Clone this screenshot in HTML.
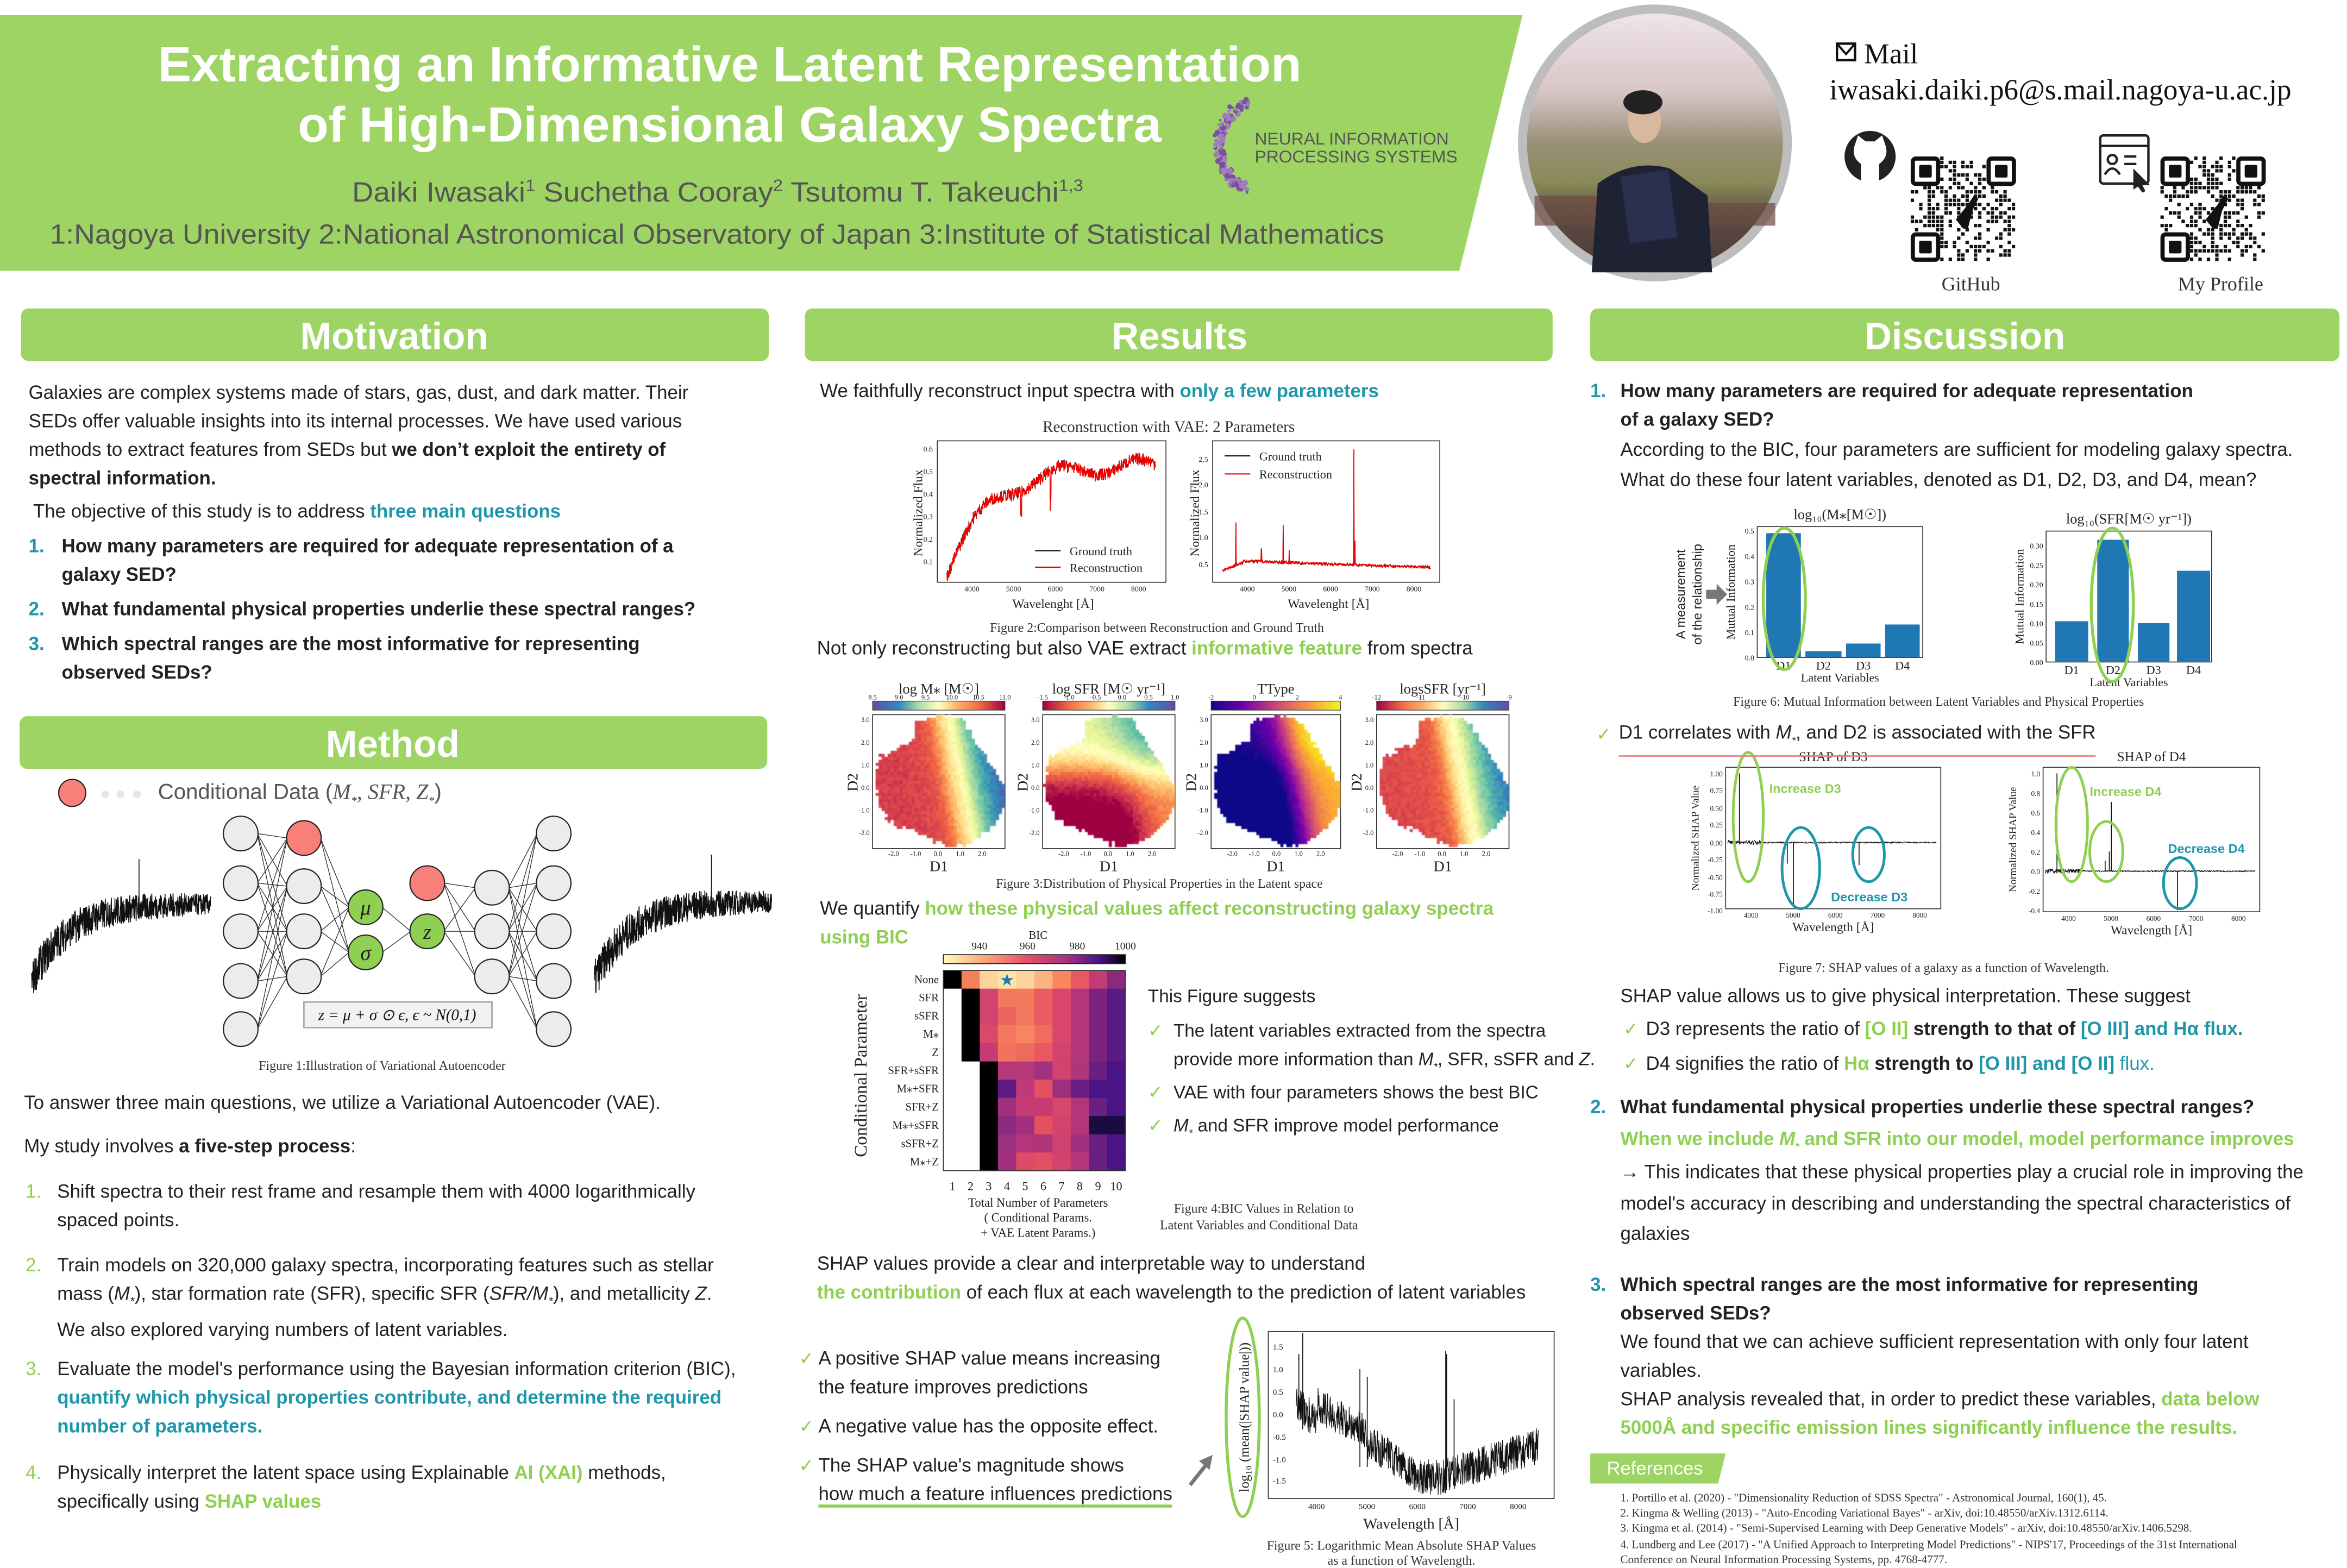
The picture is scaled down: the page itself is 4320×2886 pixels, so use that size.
<!DOCTYPE html>
<html><head><meta charset="utf-8">
<style>
html,body{margin:0;padding:0;background:#fff;}
body{width:4320px;height:2880px;overflow:hidden;}
#p{position:absolute;left:0;top:0;width:1560px;height:1040px;transform:scale(2.76923);transform-origin:0 0;font-family:"Liberation Sans",sans-serif;color:#222;}
.t{position:absolute;white-space:nowrap;font-size:12.6px;line-height:19px;}
.b{font-weight:bold;}
.g{color:#8fcf52;font-weight:bold;}
.c{color:#1f97ab;font-weight:bold;}
.n{position:absolute;font-size:12.6px;font-weight:bold;line-height:19px;}
.cap{position:absolute;white-space:nowrap;font-family:"Liberation Serif",serif;font-size:8.6px;color:#333;}
.ck{position:absolute;color:#8fcf52;font-size:12px;line-height:19px;}
svg text{font-family:"Liberation Serif",serif;}
canvas{position:absolute;}
</style></head><body><div id="p">
<svg id="s" width="1560" height="1040" style="position:absolute;left:0;top:0" xmlns="http://www.w3.org/2000/svg">
<defs>
<linearGradient id="gs" x1="0" x2="1"><stop offset="0" stop-color="#5e4fa2"/><stop offset=".2" stop-color="#3288bd"/><stop offset=".35" stop-color="#abdda4"/><stop offset=".5" stop-color="#ffffbf"/><stop offset=".65" stop-color="#fdae61"/><stop offset=".8" stop-color="#f46d43"/><stop offset="1" stop-color="#9e0142"/></linearGradient>
<linearGradient id="gr" x1="0" x2="1"><stop offset="0" stop-color="#9e0142"/><stop offset=".2" stop-color="#f46d43"/><stop offset=".35" stop-color="#fdae61"/><stop offset=".5" stop-color="#ffffbf"/><stop offset=".65" stop-color="#abdda4"/><stop offset=".8" stop-color="#3288bd"/><stop offset="1" stop-color="#5e4fa2"/></linearGradient>
<linearGradient id="gp" x1="0" x2="1"><stop offset="0" stop-color="#0d0887"/><stop offset=".25" stop-color="#7201a8"/><stop offset=".5" stop-color="#cc4778"/><stop offset=".75" stop-color="#f89540"/><stop offset="1" stop-color="#f0f921"/></linearGradient>
<linearGradient id="gm" x1="0" x2="1"><stop offset="0" stop-color="#fcfdbf"/><stop offset=".2" stop-color="#fcb07a"/><stop offset=".45" stop-color="#e8536a"/><stop offset=".7" stop-color="#9c2e7f"/><stop offset=".85" stop-color="#4a1486"/><stop offset="1" stop-color="#000004"/></linearGradient>
<linearGradient id="ph" x1="0" y1="0" x2="0" y2="1"><stop offset="0" stop-color="#efe4e8"/><stop offset=".3" stop-color="#d9c6c8"/><stop offset=".5" stop-color="#9a9078"/><stop offset=".65" stop-color="#8a8a5a"/><stop offset=".8" stop-color="#5a4a44"/><stop offset="1" stop-color="#4d3a36"/></linearGradient>
</defs>
<!-- header -->
<polygon points="0,10 1012,10 970,180 0,180" fill="#9ed464"/>
<text x="105" y="54" textLength="760" lengthAdjust="spacingAndGlyphs" font-size="33" font-weight="bold" fill="#fff" style="font-family:'Liberation Sans',sans-serif">Extracting an Informative Latent Representation</text>
<text x="198" y="94" textLength="574" lengthAdjust="spacingAndGlyphs" font-size="33" font-weight="bold" fill="#fff" style="font-family:'Liberation Sans',sans-serif">of High-Dimensional Galaxy Spectra</text>
<text x="234" y="134" textLength="486" lengthAdjust="spacingAndGlyphs" font-size="18.5" fill="#555" style="font-family:'Liberation Sans',sans-serif">Daiki Iwasaki<tspan font-size="11" dy="-7">1</tspan><tspan dy="7"> Suchetha Cooray</tspan><tspan font-size="11" dy="-7">2</tspan><tspan dy="7"> Tsutomu T. Takeuchi</tspan><tspan font-size="11" dy="-7">1,3</tspan></text>
<text x="33" y="162" textLength="887" lengthAdjust="spacingAndGlyphs" font-size="18.5" fill="#555" style="font-family:'Liberation Sans',sans-serif">1:Nagoya University 2:National Astronomical Observatory of Japan 3:Institute of Statistical Mathematics</text>
<g id="nips"></g>
<text x="834" y="96" font-size="11.5" fill="#555" style="font-family:'Liberation Sans',sans-serif">NEURAL INFORMATION</text>
<text x="834" y="108" font-size="11.5" fill="#555" style="font-family:'Liberation Sans',sans-serif">PROCESSING SYSTEMS</text>
<!-- photo -->
<ellipse cx="1100" cy="95" rx="91" ry="92" fill="#bdbdbd"/>
<ellipse cx="1100" cy="95" rx="85" ry="86" fill="url(#ph)"/>
<path d="M1020,130 L1080,130 L1080,150 L1020,150Z" fill="#6b4a40" opacity=".7"/>
<path d="M1120,135 L1180,135 L1180,150 L1120,150Z" fill="#6b4a40" opacity=".7"/>
<path d="M1058,181 L1062,122 Q1085,105 1110,112 L1135,130 L1138,181 Z" fill="#1e2233"/>
<ellipse cx="1093" cy="80" rx="11" ry="15" fill="#d9b8a0"/>
<ellipse cx="1092" cy="68" rx="13" ry="8" fill="#222"/>
<rect x="1080" y="115" width="32" height="45" fill="#2a3050" transform="rotate(-8 1096 137)"/>
<!-- contact -->
<rect x="1221" y="29" width="12" height="11" fill="none" stroke="#111" stroke-width="1.6"/><path d="M1221,29 L1227,36 L1233,29" fill="none" stroke="#111" stroke-width="1.4"/>
<text x="1239" y="42" font-size="19" fill="#111">Mail</text>
<text x="1216" y="66" font-size="19.5" fill="#111" textLength="307" lengthAdjust="spacingAndGlyphs">iwasaki.daiki.p6@s.mail.nagoya-u.ac.jp</text>
<circle cx="1243" cy="104" r="17" fill="#222"/>
<path d="M1233,96 L1235,90 L1240,94 L1246,94 L1251,90 L1253,96 Q1256,104 1249,109 L1249,122 L1237,122 L1237,109 Q1230,104 1233,96Z" fill="#fff"/>
<g fill="none" stroke="#222" stroke-width="1.6"><rect x="1396" y="90" width="32" height="32" rx="2"/><line x1="1396" y1="97" x2="1428" y2="97"/><circle cx="1404" cy="106" r="3"/><path d="M1399,116 Q1404,108 1409,116"/><line x1="1412" y1="104" x2="1420" y2="104"/><line x1="1412" y1="109" x2="1420" y2="109"/></g>
<path d="M1418,112 L1429,123 L1424,123 L1426,127 L1424,128 L1421,124 L1418,126Z" fill="#222"/>
<g id="qr"></g>
<text x="1310" y="193" font-size="13" fill="#333" text-anchor="middle">GitHub</text>
<text x="1476" y="193" font-size="13" fill="#333" text-anchor="middle">My Profile</text>
<!-- section headers -->
<rect x="14" y="205" width="497" height="35" rx="5" fill="#9ed464"/>
<rect x="535" y="205" width="497" height="35" rx="5" fill="#9ed464"/>
<rect x="1057" y="205" width="498" height="35" rx="5" fill="#9ed464"/>
<rect x="13" y="476" width="497" height="35" rx="5" fill="#9ed464"/>
<g font-size="25" font-weight="bold" fill="#fff" text-anchor="middle" style="font-family:'Liberation Sans',sans-serif">
<text x="262" y="232" style="font-family:'Liberation Sans',sans-serif">Motivation</text>
<text x="784" y="232" style="font-family:'Liberation Sans',sans-serif">Results</text>
<text x="1306" y="232" style="font-family:'Liberation Sans',sans-serif">Discussion</text>
<text x="261" y="503" style="font-family:'Liberation Sans',sans-serif">Method</text>
</g>
<!-- method diagram -->
<ellipse cx="48" cy="527" rx="9" ry="9" fill="#f87f7a" stroke="#222" stroke-width=".8"/>
<circle cx="70" cy="528" r="2.6" fill="#e6e6e6"/><circle cx="80" cy="528" r="2.6" fill="#e6e6e6"/><circle cx="91" cy="528" r="2.6" fill="#e6e6e6"/>
<g id="net"></g>
<rect x="202" y="666" width="125" height="17" fill="#f2f2f2" stroke="#aaa"/>
<text x="264" y="678" font-size="10.5" font-style="italic" text-anchor="middle" fill="#111">z = μ + σ ⊙ ϵ, ϵ ~ N(0,1)</text>
<g id="g1"></g>
</svg>

<!-- Motivation text -->
<div class="t" style="left:19px;top:252px">Galaxies are complex systems made of stars, gas, dust, and dark matter. Their<br>SEDs offer valuable insights into its internal processes. We have used various<br>methods to extract features from SEDs but <b>we don’t exploit the entirety of</b><br><b>spectral information.</b></div>
<div class="t" style="left:22px;top:331px">The objective of this study is to address <span class="c">three main questions</span></div>
<div class="n c" style="left:19px;top:354px">1.</div><div class="t b" style="left:41px;top:354px">How many parameters are required for adequate representation of a<br>galaxy SED?</div>
<div class="n c" style="left:19px;top:396px">2.</div><div class="t b" style="left:41px;top:396px">What fundamental physical properties underlie these spectral ranges?</div>
<div class="n c" style="left:19px;top:419px">3.</div><div class="t b" style="left:41px;top:419px">Which spectral ranges are the most informative for representing<br>observed SEDs?</div>

<!-- Method text -->
<div class="t" style="left:105px;top:518px;font-size:14.5px;color:#555">Conditional Data (<i style="font-family:'Liberation Serif',serif">M<sub style="font-size:8px">*</sub>, SFR, Z<sub style="font-size:8px">*</sub></i>)</div>
<div class="cap" style="left:172px;top:703px">Figure 1:Illustration of Variational Autoencoder</div>
<div class="t" style="left:16px;top:724px">To answer three main questions, we utilize a Variational Autoencoder (VAE).</div>
<div class="t" style="left:16px;top:753px">My study involves <b>a five-step process</b>:</div>
<div class="n g" style="left:17px;top:783px;font-weight:normal">1.</div><div class="t" style="left:38px;top:783px">Shift spectra to their rest frame and resample them with 4000 logarithmically<br>spaced points.</div>
<div class="n g" style="left:17px;top:832px;font-weight:normal">2.</div><div class="t" style="left:38px;top:832px">Train models on 320,000 galaxy spectra, incorporating features such as stellar<br>mass (<i>M<sub style="font-size:8px">*</sub></i>), star formation rate (SFR), specific SFR (<i>SFR/M<sub style="font-size:8px">*</sub></i>), and metallicity <i>Z</i>.<br>We also explored varying numbers of latent variables.</div>
<div class="n g" style="left:17px;top:901px;font-weight:normal">3.</div><div class="t" style="left:38px;top:901px">Evaluate the model's performance using the Bayesian information criterion (BIC),<br><span class="c">quantify which physical properties contribute, and determine the required</span><br><span class="c">number of parameters.</span></div>
<div class="n g" style="left:17px;top:970px;font-weight:normal">4.</div><div class="t" style="left:38px;top:970px">Physically interpret the latent space using Explainable <span class="g">AI (XAI)</span> methods,<br>specifically using <span class="g">SHAP values</span></div>

<!-- Results text -->
<div class="t" style="left:545px;top:251px">We faithfully reconstruct input spectra with <span class="c">only a few parameters</span></div>
<div class="cap" style="left:693px;top:279px;font-size:10.5px">Reconstruction with VAE: 2 Parameters</div>
<div class="cap" style="left:658px;top:412px">Figure 2:Comparison between Reconstruction and Ground Truth</div>
<div class="t" style="left:543px;top:422px">Not only reconstructing but also VAE extract <span class="g">informative feature</span> from spectra</div>
<div class="cap" style="left:662px;top:582px">Figure 3:Distribution of Physical Properties in the Latent space</div>
<div class="t" style="left:545px;top:595px">We quantify <span class="g">how these physical values affect reconstructing galaxy spectra</span><br><span class="g">using BIC</span></div>
<div class="t" style="left:763px;top:653px;font-size:12px">This Figure suggests</div>
<div class="ck" style="left:763px;top:676px">✓</div><div class="t" style="left:780px;top:676px;font-size:12px">The latent variables extracted from the spectra<br>provide more information than <i>M<sub style="font-size:7px">*</sub></i>, SFR, sSFR and <i>Z</i>.</div>
<div class="ck" style="left:763px;top:717px">✓</div><div class="t" style="left:780px;top:717px;font-size:12px">VAE with four parameters shows the best BIC</div>
<div class="ck" style="left:763px;top:739px">✓</div><div class="t" style="left:780px;top:739px;font-size:12px"><i>M<sub style="font-size:7px">*</sub></i> and SFR improve model performance</div>
<div class="cap" style="left:771px;top:798px;text-align:center;line-height:11px">&nbsp;&nbsp;&nbsp;Figure 4:BIC Values in Relation to<br>Latent Variables and Conditional Data</div>
<div class="t" style="left:543px;top:831px">SHAP values provide a clear and interpretable way to understand<br><span class="g">the contribution</span> of each flux at each wavelength to the prediction of latent variables</div>
<div class="ck" style="left:531px;top:894px">✓</div><div class="t" style="left:544px;top:894px">A positive SHAP value means increasing<br>the feature improves predictions</div>
<div class="ck" style="left:531px;top:939px">✓</div><div class="t" style="left:544px;top:939px">A negative value has the opposite effect.</div>
<div class="ck" style="left:531px;top:965px">✓</div><div class="t" style="left:544px;top:965px">The SHAP value's magnitude shows<br><span style="border-bottom:2.5px solid #8fcf52">how much a feature influences predictions</span></div>
<div class="cap" style="left:842px;top:1022px;text-align:center;line-height:10px">Figure 5: Logarithmic Mean Absolute SHAP Values<br>as a function of Wavelength.</div>

<!-- Discussion text -->
<div class="n c" style="left:1057px;top:251px">1.</div><div class="t b" style="left:1077px;top:251px">How many parameters are required for adequate representation<br>of a galaxy SED?</div>
<div class="t" style="left:1077px;top:289px;line-height:20px">According to the BIC, four parameters are sufficient for modeling galaxy spectra.<br>What do these four latent variables, denoted as D1, D2, D3, and D4, mean?</div>
<div class="cap" style="left:1152px;top:461px">Figure 6: Mutual Information between Latent Variables and Physical Properties</div>
<div class="ck" style="left:1061px;top:479px">✓</div><div class="t" style="left:1076px;top:479px;border-bottom:1px solid #f08080;line-height:17px">D1 correlates with <i>M<sub style="font-size:7px">*</sub></i>, and D2 is associated with the SFR</div>
<div class="cap" style="left:1182px;top:638px">Figure 7: SHAP values of a galaxy as a function of Wavelength.</div>
<div class="t" style="left:1077px;top:653px">SHAP value allows us to give physical interpretation. These suggest</div>
<div class="ck" style="left:1079px;top:675px">✓</div><div class="t" style="left:1094px;top:675px">D3 represents the ratio of <span class="g">[O II]</span> <b>strength to that of</b> <span class="c">[O III] and Hα flux.</span></div>
<div class="ck" style="left:1079px;top:698px">✓</div><div class="t" style="left:1094px;top:698px">D4 signifies the ratio of <span class="g">Hα</span> <b>strength to</b> <span class="c">[O III] and [O II]</span> <span style="color:#1f97ab">flux.</span></div>
<div class="n c" style="left:1057px;top:727px">2.</div><div class="t b" style="left:1077px;top:727px">What fundamental physical properties underlie these spectral ranges?</div>
<div class="t g" style="left:1077px;top:748px">When we include <i>M<sub style="font-size:7px">*</sub></i> and SFR into our model, model performance improves</div>
<div class="t" style="left:1077px;top:769px;line-height:20.5px">→ This indicates that these physical properties play a crucial role in improving the<br>model's accuracy in describing and understanding the spectral characteristics of<br>galaxies</div>
<div class="n c" style="left:1057px;top:845px">3.</div><div class="t b" style="left:1077px;top:845px">Which spectral ranges are the most informative for representing<br>observed SEDs?</div>
<div class="t" style="left:1077px;top:883px">We found that we can achieve sufficient representation with only four latent<br>variables.<br>SHAP analysis revealed that, in order to predict these variables, <span class="g">data below</span><br><span class="g">5000Å and specific emission lines significantly influence the results.</span></div>
<svg style="position:absolute;left:1057px;top:966px" width="90" height="21"><polygon points="0,0 90,0 85,20 0,20" fill="#9ed464"/></svg>
<div class="t" style="left:1068px;top:967px;color:#fff;font-size:12.5px">References</div>
<div class="cap" style="left:1077px;top:991px;font-size:7.6px;line-height:10.2px">1. Portillo et al. (2020) - "Dimensionality Reduction of SDSS Spectra" - Astronomical Journal, 160(1), 45.<br>2. Kingma &amp; Welling (2013) - "Auto-Encoding Variational Bayes" - arXiv, doi:10.48550/arXiv.1312.6114.<br>3. Kingma et al. (2014) - "Semi-Supervised Learning with Deep Generative Models" - arXiv, doi:10.48550/arXiv.1406.5298.<br>4. Lundberg and Lee (2017) - "A Unified Approach to Interpreting Model Predictions" - NIPS'17, Proceedings of the 31st International<br>Conference on Neural Information Processing Systems, pp. 4768-4777.</div>

<canvas id="h0" width="88" height="89" style="left:580px;top:475px"></canvas>
<canvas id="h1" width="88" height="89" style="left:693px;top:475px"></canvas>
<canvas id="h2" width="86" height="89" style="left:805px;top:475px"></canvas>
<canvas id="h3" width="88" height="89" style="left:915px;top:475px"></canvas>
</div>
<script>
var NS="http://www.w3.org/2000/svg";
var seed=7;function R(){seed=(seed*16807)%2147483647;return seed/2147483647;}
function el(p,tag,a,txt){var e=document.createElementNS(NS,tag);for(var k in a)e.setAttribute(k,a[k]);if(txt!=null)e.textContent=txt;p.appendChild(e);return e;}
var G=document.getElementById('g1');
function T(x,y,s,fs,o){o=o||{};var a={x:x,y:y,'font-size':fs,fill:o.fill||'#222'};if(o.a)a['text-anchor']=o.a;if(o.rot)a.transform='rotate('+o.rot+' '+x+' '+y+')';if(o.fw)a['font-weight']=o.fw;if(o.sans)a.style="font-family:'Liberation Sans',sans-serif";if(o.it)a['font-style']='italic';return el(G,'text',a,s);}
function box(x0,y0,x1,y1){el(G,'rect',{x:x0,y:y0,width:x1-x0,height:y1-y0,fill:'none',stroke:'#333','stroke-width':.6});}
function pl(pts,c,w){el(G,'polyline',{points:pts.map(function(p){return p[0].toFixed(1)+','+p[1].toFixed(1)}).join(' '),fill:'none',stroke:c,'stroke-width':w||.5,'stroke-linejoin':'round'});}
// NeurIPS logo dots
(function(){var g=document.getElementById('nips');for(var i=0;i<90;i++){var t=i/90;var ang=(115+t*130)*Math.PI/180;var r=32;var cx=842+Math.cos(ang)*r,cy=97-Math.sin(ang)*r;for(var j=0;j<2;j++){el(g,'circle',{cx:cx+(R()-.5)*6,cy:cy+(R()-.5)*6,r:.7+R()*1.4,fill:(R()<.5?'#7b4f9d':'#a07cc0')});}}})();
// QR codes
(function(){var g=document.getElementById('qr');[[1270,104],[1436,104]].forEach(function(o){var n=25,m=70/n;for(var i=0;i<n;i++)for(var j=0;j<n;j++){var f=(i<7&&j<7)||(i<7&&j>=n-7)||(i>=n-7&&j<7);if(f)continue;if(R()<.45)el(g,'rect',{x:o[0]+i*m,y:o[1]+j*m,width:m*.8,height:m*.8,fill:'#111'});}
[[0,0],[n-7,0],[0,n-7]].forEach(function(q){var x=o[0]+q[0]*m,y=o[1]+q[1]*m;el(g,'rect',{x:x+m/2,y:y+m/2,width:6*m,height:6*m,fill:'none',stroke:'#111','stroke-width':m,rx:2});el(g,'rect',{x:x+2*m,y:y+2*m,width:3*m,height:3*m,fill:'#111',rx:1});});
el(g,'path',{d:'M'+(o[0]+30)+','+(o[1]+42)+' l8,-10 l4,-6 l3,2 l-4,8 l-3,12 l-3,0z',fill:'#111'});});})();
// network
(function(){var g=document.getElementById('net');var c1=[554,587,619,652,684],c2=[589,619,649],c5=[590,619,649];
function L(x1,y1,x2,y2){el(g,'line',{x1:x1,y1:y1,x2:x2,y2:y2,stroke:'#222','stroke-width':.45});}
c1.forEach(function(a){c2.forEach(function(b){L(171,a,191,b)});});c1.slice(0,4).forEach(function(a){L(171,a,191,557)});
[557].concat(c2).forEach(function(a){L(213,a,232,603);L(213,a,232,633);});
L(254,603,273,619);L(254,633,273,619);
[587,619].forEach(function(a){c5.forEach(function(b){L(295,a,316,b)});});
c5.forEach(function(a){c1.forEach(function(b){L(338,a,357,b)});});
function C(x,y,f,t){el(g,'ellipse',{cx:x,cy:y,rx:11.5,ry:11.5,fill:f,stroke:'#222','stroke-width':.8});if(t)el(g,'text',{x:x,y:y+5,'text-anchor':'middle','font-size':14,'font-style':'italic',fill:'#222'},t);}
c1.forEach(function(y){C(160,y,'#ececec');C(368,y,'#ececec');});
C(202,557,'#f87f7a');c2.forEach(function(y){C(202,y,'#ececec')});
C(243,603,'#8fcf52','μ');C(243,633,'#8fcf52','σ');C(284,587,'#f87f7a');C(284,619,'#8fcf52','z');c5.forEach(function(y){C(327,y,'#ececec')});
function sp(x0,x1,y0,y1,spike){var p=[];for(var i=0;i<=700;i++){var t=i/700;var v=1-Math.exp(-t*5);v=v*0.8+(R()-.5)*0.3*(1.3-t*.6);p.push([x0+t*(x1-x0),y1-(v)*(y1-y0)*0.72-8]);}
pl(p,'#111',.6);el(G,'line',{x1:x0+(x1-x0)*spike,y1:y0,x2:x0+(x1-x0)*spike,y2:y0+40,stroke:'#111','stroke-width':.6});}
sp(21,140,571,660,.6);sp(395,513,568,660,.66);})();
// Fig2
(function(){box(623,293,775,387);box(806,293,957,387);
[[0.1,373],[0.2,358],[0.3,343],[0.4,328],[0.5,313],[0.6,298]].forEach(function(a){T(620,a[1]+2,a[0].toFixed(1),5,{a:'end'});});
function xl(x0){[4000,5000,6000,7000,8000].forEach(function(w,i){T(x0+i*27.7,393,w,5,{a:'middle'});});}
xl(646);xl(829);
T(700,404,'Wavelenght [Å]',8.5,{a:'middle'});T(883,404,'Wavelenght [Å]',8.5,{a:'middle'});
T(613,341,'Normalized Flux',8.5,{a:'middle',rot:-90});T(797,341,'Normalized Flux',8.5,{a:'middle',rot:-90});
[[0.5,375],[1.0,357],[1.5,340],[2.0,322],[2.5,305]].forEach(function(a){T(803,a[1]+2,a[0].toFixed(1),5,{a:'end'});});
function X1(w){return 646+(w-4000)*0.0277}function X2(w){return 829+(w-4000)*0.0277}
var base=[];for(var w=3400;w<=8400;w+=8){var v=0.06+0.47*(1-Math.exp(-(w-3400)/1100))+0.03*Math.sin(w/300);v+=(R()-.5)*0.05;if(Math.abs(w-5180)<15)v-=0.1;if(Math.abs(w-5890)<12)v-=0.15;base.push([w,v]);}
pl(base.map(function(a){return [X1(a[0]),373-(a[1]-0.1)*150+(R()-.5)*2]}),'#111',.5);
pl(base.map(function(a){return [X1(a[0]),373-(a[1]-0.1)*150]}),'#e00',.6);
var EL=[[3727,.8],[4340,.25],[4861,.7],[5007,.25],[6563,2.2],[6583,.45]];
var b2=[];for(var w=3400;w<=8400;w+=8){var v=w<3900?0.38+(w-3400)/500*0.15:0.56-(w-3900)/4500*0.12;v+=(R()-.5)*0.05;EL.forEach(function(l){if(Math.abs(w-l[0])<5)v+=l[1];});b2.push([w,v]);}
pl(b2.map(function(a){return [X2(a[0]),375-(a[1]-0.5)*35+(R()-.5)*1]}),'#111',.5);
pl(b2.map(function(a){return [X2(a[0]),375-(a[1]-0.5)*35]}),'#e00',.6);
el(G,'line',{x1:688,y1:366,x2:705,y2:366,stroke:'#111','stroke-width':.8});T(711,369,'Ground truth',8);
el(G,'line',{x1:688,y1:377,x2:705,y2:377,stroke:'#e00','stroke-width':.8});T(711,380,'Reconstruction',8);
el(G,'line',{x1:814,y1:303,x2:831,y2:303,stroke:'#111','stroke-width':.8});T(837,306,'Ground truth',8);
el(G,'line',{x1:814,y1:315,x2:831,y2:315,stroke:'#e00','stroke-width':.8});T(837,318,'Reconstruction',8);
})();
// Fig3 frames/labels
(function(){var P=[[580,'',['8.5','9.0','9.5','10.0','10.5','11.0'],'gs','log M⁎ [M☉]'],[693,'',['-1.5','-1.0','-0.5','0.0','0.5','1.0'],'gr','log SFR [M☉ yr⁻¹]'],[805,'',['-2','0','2','4'],'gp','TType'],[915,'',['-12','-11','-10','-9'],'gr','logsSFR [yr⁻¹]']];
P.forEach(function(p,k){var x=p[0],w=k==2?86:88;box(x,475,x+w,564);el(G,'rect',{x:x,y:466,width:w,height:6,fill:'url(#'+p[3]+')',stroke:'#333','stroke-width':.4});
T(x+w/2,461,p[4],9.5,{a:'middle'});p[2].forEach(function(s,i){T(x+i*w/(p[2].length-1),465,s,4.5,{a:'middle'});});
['3.0','2.0','1.0','0.0','-1.0','-2.0'].forEach(function(s,i){T(x-2,480+i*15,s,4.5,{a:'end'});});
['-2.0','-1.0','0.0','1.0','2.0'].forEach(function(s,i){T(x+14+i*14.7,569,s,4.5,{a:'middle'});});
T(x+w/2,579,'D1',10,{a:'middle'});T(x-10,520,'D2',10,{a:'middle',rot:-90});});})();
// heatmap canvases
(function(){function hex(h){return [parseInt(h.substr(1,2),16),parseInt(h.substr(3,2),16),parseInt(h.substr(5,2),16)];}
var SP=['#9e0142','#d53e4f','#f46d43','#fdae61','#fee08b','#ffffbf','#e6f598','#abdda4','#66c2a5','#3288bd','#5e4fa2'].map(hex);
var PL=['#0d0887','#46039f','#7201a8','#9c179e','#bd3786','#d8576b','#ed7953','#fb9f3a','#fdca26','#f0f921'].map(hex);
function cm(c,v){v=Math.max(0,Math.min(.999,v));var f=v*(c.length-1),i=Math.floor(f),t=f-i;var a=c[i],b=c[i+1];return 'rgb('+Math.round(a[0]+(b[0]-a[0])*t)+','+Math.round(a[1]+(b[1]-a[1])*t)+','+Math.round(a[2]+(b[2]-a[2])*t)+')';}
function th(x){return Math.tanh(x);}
var F=[function(x,y,d){return [SP,(d<0?0.2-0.1*th(-d*0.6)+0.25*Math.exp(-d*d*2):0.47+0.5*th(d*0.9))];},
function(x,y,d){return [SP,0.42+0.33*th((y-0.9)*0.9)+0.15*th(d*0.9)-0.08*Math.exp(-((x-0.4)*(x-0.4)+(y+1.8)*(y+1.8)))];},
function(x,y,d){return [PL,0.45+0.5*th(d*1.1)+0.12*th(y-1.2)];},
function(x,y,d){return [SP,(d<0?0.22-0.1*th(-d*0.6)+0.27*Math.exp(-d*d*2):0.5+0.45*th(d*0.8))];}];
for(var k=0;k<4;k++){var cv=document.getElementById('h'+k),ctx=cv.getContext('2d');var W=cv.width,H=cv.height,cs=2;
for(var i=0;i<W;i+=cs)for(var j=0;j<H;j+=cs){var x=-3+6*i/W,y=3.3-6.1*j/H;var jit=(R()-.5)*0.25;
var ex=(x-0.1)/3.05,ey=(y-0.3)/3.0;if(ex*ex+ey*ey>1+jit*0.4)continue;
if(y< -1.2-0.43*(x+3)+jit)continue;
if(x>1&&y>3.2-1.6*(x-1)+jit)continue;
if(x<-1.2&&y>2.2+(x+1.2)*0.5+jit)continue;
if(y< -1-1.25*(3-x)+jit)continue;
if(y< -2.7+jit*0.5)continue;
var d=x-(0.35+(3-y)*0.2);var f=F[k](x,y,d);var v=f[1]+(R()-.5)*0.06;ctx.fillStyle=cm(f[0],v);ctx.fillRect(i,j,cs,cs);}}})();
// Fig4 BIC
(function(){var x0=627,y0=645,cw=12.1,ch=12.1;var rows=['None','SFR','sSFR','M*','Z','SFR+sSFR','M*+SFR','SFR+Z','M*+sSFR','sSFR+Z','M*+Z'];
var C=[['#000','#f4805c','#fcd49b','#fde3a7','#fcd49b','#fbb47f','#f8875f','#e85862','#c43c75','#8a2a7c'],
['#fff','#000','#d2436f','#f4785d','#f47a5c','#ea5b62','#d8466c','#b3367a','#7c2382','#5a1a84'],
['#fff','#000','#d2436f','#ee6560','#f4785d','#ea5b62','#d8466c','#b3367a','#7c2382','#5a1a84'],
['#fff','#000','#da4a68','#f4785d','#f68560','#f06c5d','#d8466c','#b3367a','#7c2382','#5a1a84'],
['#fff','#000','#c43c75','#f2735c','#ef6a5e','#e85862','#d2436f','#b3367a','#7c2382','#5a1a84'],
['#fff','#fff','#000','#b5387a','#b5387a','#a23280','#d2436f','#b03679','#6a1f83','#4a1486'],
['#fff','#fff','#000','#5f1b84','#c0397a','#e4505f','#9b2f80','#6a1f83','#4a1486','#4a1486'],
['#fff','#fff','#000','#a32f80','#c73b73','#c73b73','#d7476b','#b3367a','#6a1f83','#4a1486'],
['#fff','#fff','#000','#8a2a80','#a32f80','#e4505f','#d2436f','#b3367a','#1b0c40','#1b0c40'],
['#fff','#fff','#000','#9b2f80','#b3367a','#b03679','#cd426f','#a32f80','#6a1f83','#4a1486'],
['#fff','#fff','#000','#a32f80','#de4b66','#e24f63','#d2436f','#b3367a','#6a1f83','#4a1486']];
C.forEach(function(r,i){r.forEach(function(c,j){el(G,'rect',{x:x0+j*cw,y:y0+i*ch,width:cw+.3,height:ch+.3,fill:c});});T(x0-3,y0+i*ch+8.5,rows[i].replace('M*','M⁎'),7.5,{a:'end'});});
box(x0,y0,x0+10*cw,y0+11*ch);
el(G,'text',{x:x0+3.5*cw,y:y0+10,'text-anchor':'middle','font-size':11,fill:'#1f77b4'},'★');
for(var j=0;j<10;j++)T(x0+j*cw+6,791,String(j+1),8,{a:'middle'});
el(G,'rect',{x:x0,y:634.5,width:10*cw,height:6,fill:'url(#gm)',stroke:'#222','stroke-width':.6});
[['940',651],['960',683],['980',716],['1000',748]].forEach(function(a){T(a[1],631,a[0],7,{a:'middle'});});
T(690,624,'BIC',7.5,{a:'middle'});
T(690,802,'Total Number of Parameters',8.2,{a:'middle'});T(690,812,'( Conditional Params.',8.2,{a:'middle'});T(690,822,'+ VAE Latent Params.)',8.2,{a:'middle'});
T(576,715,'Conditional Parameter',12,{a:'middle',rot:-90});})();
// Fig5
(function(){box(843,885,1033,996);function X(w){return 865+(w-3700)*0.0335;}
[[1.5,895],[1.0,910],[0.5,925],[0.0,940],[-0.5,955],[-1.0,970],[-1.5,984]].forEach(function(a){T(846,a[1]+2,a[0].toFixed(1),5.5,{a:'start'});});
[4000,5000,6000,7000,8000].forEach(function(w){T(X(w),1003,w,5.5,{a:'middle'});});
T(938,1016,'Wavelength [Å]',10,{a:'middle'});
var p=[];for(var w=3600;w<=8400;w+=6){var v;if(w<4000)v=0.3-(w-3600)/400*0.5;else if(w<5000)v=0.2-(w-4000)/1000*0.6;else if(w<6000)v=-0.6-(w-5000)/1000*0.8;else if(w<6500)v=-1.4;else v=-1.4+(w-6500)/1900*0.7;v+=(R()-.5)*0.8;
p.push([X(w),Math.max(886,Math.min(995,940-v*29.7))]);}
pl(p,'#111',.45);
[[3727,886,950],[4861,910,975],[5007,915,975],[6563,898,985],[6583,900,980],[6730,930,985],[3650,900,940]].forEach(function(s){el(G,'line',{x1:X(s[0]),y1:s[1],x2:X(s[0]),y2:s[2],stroke:'#111','stroke-width':.6});});
el(G,'ellipse',{cx:826,cy:942,rx:11,ry:66,fill:'none',stroke:'#8fcf52','stroke-width':2});
T(830,942,'log₁₀ (mean(|SHAP value|))',9,{a:'middle',rot:-90});
el(G,'line',{x1:791,y1:987,x2:803,y2:972,stroke:'#777','stroke-width':2.5});el(G,'polygon',{points:'806,967 797,971 804,977',fill:'#777'});})();
// Fig6
(function(){function chart(x0,x1,y0,y1,ticks,sc,bars,title){box(x0,y0,x1,y1);ticks.forEach(function(t){var y=y1-t*sc;T(x0-2,y+2,t.toFixed(ticks.length>6?2:1),5,{a:'end'});});
bars.forEach(function(b){el(G,'rect',{x:b[0],y:y1-b[2]*sc,width:b[1]-b[0],height:b[2]*sc,fill:'#1f77b4'});});
['D1','D2','D3','D4'].forEach(function(s,i){T((bars[i][0]+bars[i][1])/2,y1+8,s,8,{a:'middle'});});
T((x0+x1)/2,y1+16,'Latent Variables',8,{a:'middle'});T((x0+x1)/2,y0-5,title,9.5,{a:'middle'});T(x0-15,(y0+y1)/2,'Mutual Information',8,{a:'middle',rot:-90});}
chart(1168,1278,350,437,[0,0.1,0.2,0.3,0.4,0.5],168.6,[[1174,1197,.49],[1200,1224,.025],[1227,1250,.055],[1253,1276,.13]],'log₁₀(M⁎[M☉])');
chart(1360,1470,353,440,[0,0.05,0.1,0.15,0.2,0.25,0.3],258,[[1366,1388,.105],[1394,1415,.315],[1421,1442,.1],[1447,1469,.235]],'log₁₀(SFR[M☉ yr⁻¹])');
el(G,'ellipse',{cx:1186,cy:398,rx:14,ry:47,fill:'none',stroke:'#8fcf52','stroke-width':2});
el(G,'ellipse',{cx:1404,cy:402,rx:14,ry:51,fill:'none',stroke:'#8fcf52','stroke-width':2});
T(1120,395,'A measurement',8.5,{a:'middle',rot:-90,sans:1});T(1131,395,'of the relationship',8.5,{a:'middle',rot:-90,sans:1});
el(G,'polygon',{points:'1134,392 1141,392 1141,388 1148,395 1141,402 1141,398 1134,398',fill:'#777'});})();
// Fig7
(function(){function sh(x0,x1,y0,y1,zero,title,yt,ylab,peaks){box(x0,y0,x1,y1);T((x0+x1)/2,y0-4,title,9,{a:'middle'});
yt.forEach(function(t){T(x0-2,t[1]+2,t[0],4.8,{a:'end'});});var X=function(w){return x0+(w-3400)*(x1-x0)/5100;};
[4000,5000,6000,7000,8000].forEach(function(w){T(X(w),y1+6,w,4.8,{a:'middle'});});T((x0+x1)/2,y1+15,'Wavelength [Å]',8.5,{a:'middle'});
T(x0-18,(y0+y1)/2,'Normalized SHAP Value',7,{a:'middle',rot:-90});
var p=[];for(var w=3450;w<=8400;w+=8){p.push([X(w),zero+(R()-.5)*(w<4300?3:1)]);}pl(p,'#111',.4);
peaks.forEach(function(k){el(G,'line',{x1:X(k[0]),y1:zero,x2:X(k[0]),y2:zero-k[1],stroke:'#111','stroke-width':.6});});}
sh(1147,1290,510,604,560,'SHAP of D3',[['1.00',514],['0.75',525],['0.50',537],['0.25',548],['0.00',560],['-0.25',571],['-0.50',583],['-0.75',594],['-1.00',605]],'',[[3727,46],[4861,-14],[5007,-43],[6563,-15]]);
sh(1358,1502,510,606,579,'SHAP of D4',[['1.0',514],['0.8',527],['0.6',540],['0.4',553],['0.2',566],['0.0',579],['-0.2',592],['-0.4',605]],'',[[3727,65],[4861,7],[4959,13],[5007,46],[6563,-26]]);
function E(cx,cy,rx,ry,c){el(G,'ellipse',{cx:cx,cy:cy,rx:rx,ry:ry,fill:'none',stroke:c,'stroke-width':1.8});}
E(1162,543,10,43,'#8fcf52');E(1197,577,12.5,27,'#1f97ab');E(1242,568,10.5,18,'#1f97ab');
E(1377,548,10.5,38,'#8fcf52');E(1400,566,11,20,'#8fcf52');E(1449,587,11,17,'#1f97ab');
T(1176,527,'Increase D3',8.5,{fill:'#8fcf52',fw:'bold',sans:1});T(1217,599,'Decrease D3',8.5,{fill:'#1f97ab',fw:'bold',sans:1});
T(1389,529,'Increase D4',8.5,{fill:'#8fcf52',fw:'bold',sans:1});T(1441,567,'Decrease D4',8.5,{fill:'#1f97ab',fw:'bold',sans:1});})();
</script>
</body></html>
